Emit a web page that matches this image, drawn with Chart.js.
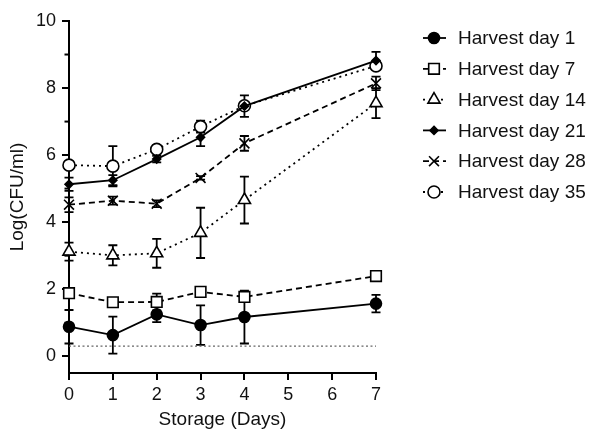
<!DOCTYPE html>
<html>
<head>
<meta charset="utf-8">
<script src="https://cdn.jsdelivr.net/npm/chart.js@4.4.0/dist/chart.umd.min.js"></script>
<style>
  html, body { margin: 0; padding: 0; background: #fff; }
  #wrap { width: 591px; height: 435px; position: relative; }
</style>
</head>
<body>
<div id="wrap"><canvas id="myChart"></canvas></div>
<script>
// storage days on the x axis
const days = [0, 1, 2, 3, 4, 7];
const seriesNames = [
  "Harvest day 1",
  "Harvest day 7",
  "Harvest day 14",
  "Harvest day 21",
  "Harvest day 28",
  "Harvest day 35",
];
// means and error bars (log CFU/ml)
const day1 = [0.88, 0.63, 1.25, 0.93, 1.17, 1.57];
const day1Err = [0.5, 0.55, 0.23, 0.59, 0.79, 0.26];
const day7 = [1.88, 1.61, 1.62, 1.92, 1.77, 2.39];
const day7Err = [0.1, 0.08, 0.25, 0.1, 0.15, 0.08];
const day14 = [3.12, 3.01, 3.07, 3.68, 4.66, 7.55];
const day14Err = [0.27, 0.3, 0.43, 0.75, 0.7, 0.45];
const day21 = [5.13, 5.25, 5.88, 6.53, 7.46, 8.82];
const day21Err = [0.2, 0.15, 0.1, 0.26, 0.32, 0.26];
const day28 = [4.52, 4.64, 4.55, 5.32, 6.35, 8.14];
const day28Err = [0.22, 0.12, 0.1, 0.05, 0.22, 0.2];
const day35 = [5.7, 5.67, 6.17, 6.85, 7.47, 8.66];
const day35Err = [0.1, 0.6, 0.12, 0.18, 0.1, 0.1];
const detectionLimit = 0.3;

const xTicks = [0, 1, 2, 3, 4, 5, 6, 7];
const yTicks = [0, 2, 4, 6, 8, 10];
const yMinorTicks = [1, 3, 5, 7, 9];

const toPoints = (ys) => ys.map((y, i) => ({ x: days[i], y: y }));

Chart.defaults.font.family = "'Liberation Sans', Arial, sans-serif";
Chart.defaults.color = "#111";

const solid = [];
const dashed = [6, 4];
const dotted = [2, 4];

function series(idx, values, errs, style, radius, filled, dash) {
  return {
    label: seriesNames[idx],
    data: toPoints(values),
    errors: errs,
    inLegend: true,
    borderColor: "#000",
    borderWidth: 1.8,
    borderDash: dash,
    pointStyle: style,
    pointRadius: radius,
    pointHoverRadius: radius,
    pointBackgroundColor: filled ? "#000" : "#fff",
    pointBorderColor: "#000",
    pointBorderWidth: 1.6,
    fill: false,
    tension: 0,
    clip: false,
  };
}

const datasets = [
  series(0, day1, day1Err, "circle", 5.5, true, solid),
  series(1, day7, day7Err, "rect", 7.5, false, dashed),
  series(2, day14, day14Err, "triangle", 7, false, dotted),
  series(3, day21, day21Err, "rectRot", 4, true, solid),
  series(4, day28, day28Err, "crossRot", 7, false, dashed),
  series(5, day35, day35Err, "circle", 6, false, dotted),
  {
    label: "LOD",
    data: [{ x: days[0], y: detectionLimit }, { x: days[days.length - 1], y: detectionLimit }],
    borderColor: "#666",
    borderWidth: 1.2,
    borderDash: [2, 2.5],
    pointRadius: 0,
    fill: false,
    clip: false,
  },
];

// error bars under the markers
const errorBars = {
  id: "errorBars",
  beforeDatasetsDraw(chart) {
    const ctx = chart.ctx;
    const xs = chart.scales.x;
    const ys = chart.scales.y;
    ctx.save();
    ctx.strokeStyle = "#000";
    ctx.lineWidth = 1.8;
    ctx.setLineDash([]);
    chart.data.datasets.forEach((ds) => {
      if (!ds.errors) return;
      ds.data.forEach((p, i) => {
        const e = ds.errors[i];
        const px = xs.getPixelForValue(p.x);
        const top = ys.getPixelForValue(p.y + e);
        const bot = ys.getPixelForValue(p.y - e);
        ctx.beginPath();
        ctx.moveTo(px, top);
        ctx.lineTo(px, bot);
        ctx.moveTo(px - 4.5, top);
        ctx.lineTo(px + 4.5, top);
        ctx.moveTo(px - 4.5, bot);
        ctx.lineTo(px + 4.5, bot);
        ctx.stroke();
      });
    });
    ctx.restore();
  },
};

function drawMarker(ctx, style, x, y, r, fill) {
  ctx.beginPath();
  if (style === "circle") {
    ctx.arc(x, y, r, 0, Math.PI * 2);
  } else if (style === "rect") {
    const s = r * Math.SQRT1_2;
    ctx.rect(x - s, y - s, 2 * s, 2 * s);
  } else if (style === "triangle") {
    ctx.moveTo(x, y - r);
    ctx.lineTo(x + r * 0.866, y + r * 0.5);
    ctx.lineTo(x - r * 0.866, y + r * 0.5);
    ctx.closePath();
  } else if (style === "rectRot") {
    ctx.moveTo(x, y - r);
    ctx.lineTo(x + r, y);
    ctx.lineTo(x, y + r);
    ctx.lineTo(x - r, y);
    ctx.closePath();
  } else if (style === "crossRot") {
    const s = r * Math.SQRT1_2;
    ctx.moveTo(x - s, y - s);
    ctx.lineTo(x + s, y + s);
    ctx.moveTo(x + s, y - s);
    ctx.lineTo(x - s, y + s);
    ctx.stroke();
    return;
  }
  ctx.fillStyle = fill;
  ctx.fill();
  ctx.stroke();
}

// legend on the right, line + marker + label
const sideLegend = {
  id: "sideLegend",
  afterDraw(chart) {
    const ctx = chart.ctx;
    ctx.save();
    let row = 0;
    chart.data.datasets.forEach((ds) => {
      if (!ds.inLegend) return;
      const y = 38 + row * 30.8;
      ctx.strokeStyle = "#000";
      ctx.lineWidth = 1.8;
      ctx.setLineDash(ds.borderDash);
      ctx.beginPath();
      ctx.moveTo(423, y);
      ctx.lineTo(446, y);
      ctx.stroke();
      ctx.setLineDash([]);
      ctx.lineWidth = 1.6;
      drawMarker(ctx, ds.pointStyle, 434, y, ds.pointRadius, ds.pointBackgroundColor);
      ctx.fillStyle = "#111";
      ctx.font = "19px 'Liberation Sans', Arial, sans-serif";
      ctx.textBaseline = "middle";
      ctx.textAlign = "left";
      ctx.fillText(ds.label, 458, y + 1);
      row++;
    });
    ctx.restore();
  },
};

// short minor ticks on the y axis
const minorTicks = {
  id: "minorTicks",
  afterDraw(chart) {
    const ctx = chart.ctx;
    const ys = chart.scales.y;
    const x0 = chart.chartArea.left;
    ctx.save();
    ctx.strokeStyle = "#000";
    ctx.lineWidth = 2;
    yMinorTicks.forEach((v) => {
      const py = ys.getPixelForValue(v);
      ctx.beginPath();
      ctx.moveTo(x0 - 4.5, py);
      ctx.lineTo(x0, py);
      ctx.stroke();
    });
    ctx.restore();
  },
};

new Chart(document.getElementById("myChart"), {
  type: "line",
  data: { datasets: datasets },
  plugins: [errorBars, minorTicks, sideLegend],
  options: {
    responsive: true,
    maintainAspectRatio: false,
    animation: false,
    layout: { padding: { top: 21, right: 215, left: 0, bottom: 0 } },
    plugins: { legend: { display: false }, tooltip: { enabled: false } },
    scales: {
      x: {
        type: "linear",
        min: 0,
        max: 7,
        afterBuildTicks: (scale) => {
          scale.ticks = xTicks.map((v) => ({ value: v }));
        },
        afterFit: (scale) => {
          scale.height = 62;
        },
        grid: {
          drawOnChartArea: false,
          color: "#000",
          lineWidth: 2,
          tickLength: 7,
        },
        border: { color: "#000", width: 2 },
        ticks: { font: { size: 18 }, padding: 4, maxRotation: 0 },
        title: {
          display: true,
          text: "Storage (Days)",
          font: { size: 19 },
          padding: { top: 0, bottom: 4 },
        },
      },
      y: {
        min: -0.5,
        max: 10,
        afterBuildTicks: (scale) => {
          scale.ticks = yTicks.map((v) => ({ value: v }));
        },
        afterFit: (scale) => {
          scale.width = 69;
        },
        grid: {
          drawOnChartArea: false,
          color: "#000",
          lineWidth: 2,
          tickLength: 7,
        },
        border: { color: "#000", width: 2 },
        ticks: { font: { size: 18 }, padding: 6 },
        title: {
          display: true,
          text: "Log(CFU/ml)",
          font: { size: 19 },
          padding: { top: 6, bottom: 0 },
        },
      },
    },
  },
});
</script>
</body>
</html>
